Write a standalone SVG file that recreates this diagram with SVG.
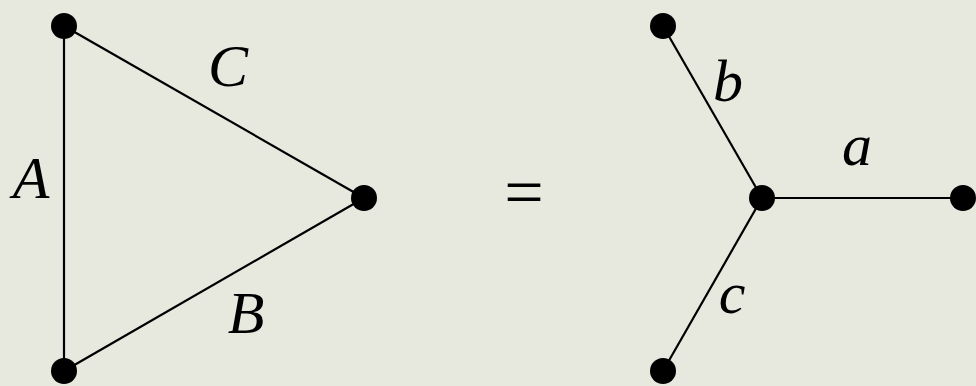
<svg xmlns="http://www.w3.org/2000/svg" width="976" height="386" viewBox="0 0 976 386">
<style>
.e{stroke:#000;stroke-width:2.2;fill:none}
.n{fill:#000}
.t{font-family:"Liberation Serif","DejaVu Serif",serif;font-style:italic;font-size:60px;fill:#000;text-anchor:middle}
.eq{font-family:"Liberation Serif","DejaVu Serif",serif;font-size:70px;fill:#000;text-anchor:middle}
</style>
<rect width="976" height="386" fill="#e7e8de"/>
<g id="connectors">
<line class="e" x1="64" y1="26" x2="64" y2="371"/>
<line class="e" x1="64" y1="26" x2="364" y2="198"/>
<line class="e" x1="64" y1="371" x2="364" y2="198"/>
<line class="e" x1="762" y1="198" x2="663" y2="26"/>
<line class="e" x1="762" y1="198" x2="963" y2="198"/>
<line class="e" x1="762" y1="198" x2="663" y2="371"/>
</g>
<g id="tri-top"><circle class="n" cx="64" cy="26" r="13"/></g>
<g id="tri-right"><circle class="n" cx="364" cy="198" r="13"/></g>
<g id="tri-bottom"><circle class="n" cx="64" cy="371" r="13"/></g>
<g id="star-center"><circle class="n" cx="762" cy="198" r="13"/></g>
<g id="star-top"><circle class="n" cx="663" cy="26" r="13"/></g>
<g id="star-right"><circle class="n" cx="963" cy="198" r="13"/></g>
<g id="star-bottom"><circle class="n" cx="663" cy="371" r="13"/></g>
<g id="labels">
<text class="t" x="31" y="198">A</text>
<text class="t" x="228" y="86">C</text>
<text class="t" x="246" y="333">B</text>
<text class="t" x="728" y="101">b</text>
<text class="t" x="857" y="165">a</text>
<text class="t" x="732" y="313">c</text>
<text class="eq" x="524" y="216">=</text>
</g>
</svg>
